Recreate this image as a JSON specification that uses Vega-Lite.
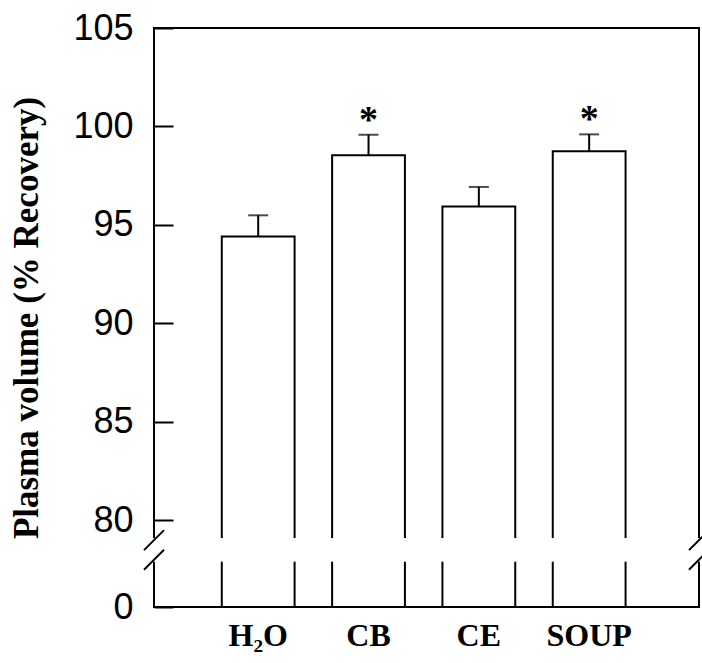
{
  "$schema": "https://vega.github.io/schema/vega-lite/v6.json",
  "autosize": {"type": "none"},
  "padding": {"left": 154, "top": 28, "right": 3, "bottom": 56},
  "width": 545,
  "height": 579,
  "background": "white",
  "config": {
    "view": {"stroke": "black", "strokeWidth": 2},
    "axis": {"grid": false}
  },
  "datasets": {
    "bars": [
      {"group": "H₂O", "mean": 94.42, "upper": 95.49, "sig": ""},
      {"group": "CB", "mean": 98.54, "upper": 99.58, "sig": "*"},
      {"group": "CE", "mean": 95.94, "upper": 96.93, "sig": ""},
      {"group": "SOUP", "mean": 98.74, "upper": 99.6, "sig": "*"}
    ],
    "breaks": [
      {"at": 78},
      {"at": 79}
    ]
  },
  "encoding": {
    "x": {
      "field": "group",
      "type": "nominal",
      "sort": null,
      "scale": {"paddingInner": 0.34, "paddingOuter": 0.64, "align": 0.48},
      "axis": {
        "title": null,
        "ticks": false,
        "tickSize": 0,
        "domain": false,
        "labelAngle": 0,
        "labelFont": "Liberation Serif",
        "labelFontWeight": "bold",
        "labelFontSize": 32,
        "labelColor": "black",
        "labelPadding": 13
      }
    }
  },
  "layer": [
    {
      "data": {"name": "bars"},
      "mark": {"type": "bar", "fill": "white", "stroke": "black", "strokeWidth": 2},
      "encoding": {
        "y": {
          "field": "mean",
          "type": "quantitative",
          "scale": {"domain": [0, 78, 79, 105], "range": [579, 531.7, 512.1, 0], "nice": false, "zero": false},
          "axis": {
            "values": [0, 80, 85, 90, 95, 100, 105],
            "domain": false,
            "tickSize": -19,
            "tickWidth": 2,
            "tickColor": "black",
            "labelFont": "Liberation Sans",
            "labelFontSize": 36,
            "labelColor": "black",
            "labelPadding": 40,
            "title": "Plasma volume (% Recovery)",
            "titleFont": "Liberation Serif",
            "titleFontWeight": "bold",
            "titleFontSize": 35,
            "titleColor": "black",
            "titlePadding": 28
          }
        }
      }
    },
    {
      "data": {"name": "bars"},
      "mark": {"type": "rect", "fill": "white", "stroke": "white", "strokeWidth": 3},
      "encoding": {
        "x": null,
        "y": {"datum": 78, "type": "quantitative"},
        "y2": {"datum": 79}
      }
    },
    {
      "data": {"name": "bars"},
      "mark": {"type": "rule", "stroke": "black", "strokeWidth": 2},
      "encoding": {
        "y": {"field": "mean", "type": "quantitative"},
        "y2": {"field": "upper"}
      }
    },
    {
      "data": {"name": "bars"},
      "mark": {"type": "tick", "color": "black", "size": 20, "thickness": 2},
      "encoding": {
        "y": {"field": "upper", "type": "quantitative"}
      }
    },
    {
      "data": {"name": "bars"},
      "mark": {"type": "text", "font": "Liberation Serif", "fontWeight": "bold", "fontSize": 38, "baseline": "alphabetic", "dy": -3, "color": "black"},
      "encoding": {
        "y": {"field": "upper", "type": "quantitative"},
        "text": {"field": "sig"}
      }
    },
    {
      "data": {"name": "breaks"},
      "mark": {"type": "point", "shape": "M -1 1 L 1 -1", "size": 400, "filled": false, "stroke": "black", "strokeWidth": 2, "opacity": 1},
      "encoding": {
        "x": {"value": 0},
        "y": {"field": "at", "type": "quantitative"}
      }
    },
    {
      "data": {"name": "breaks"},
      "mark": {"type": "point", "shape": "M -1 1 L 1 -1", "size": 400, "filled": false, "stroke": "black", "strokeWidth": 2, "opacity": 1},
      "encoding": {
        "x": {"value": {"expr": "width"}},
        "y": {"field": "at", "type": "quantitative"}
      }
    }
  ]
}
